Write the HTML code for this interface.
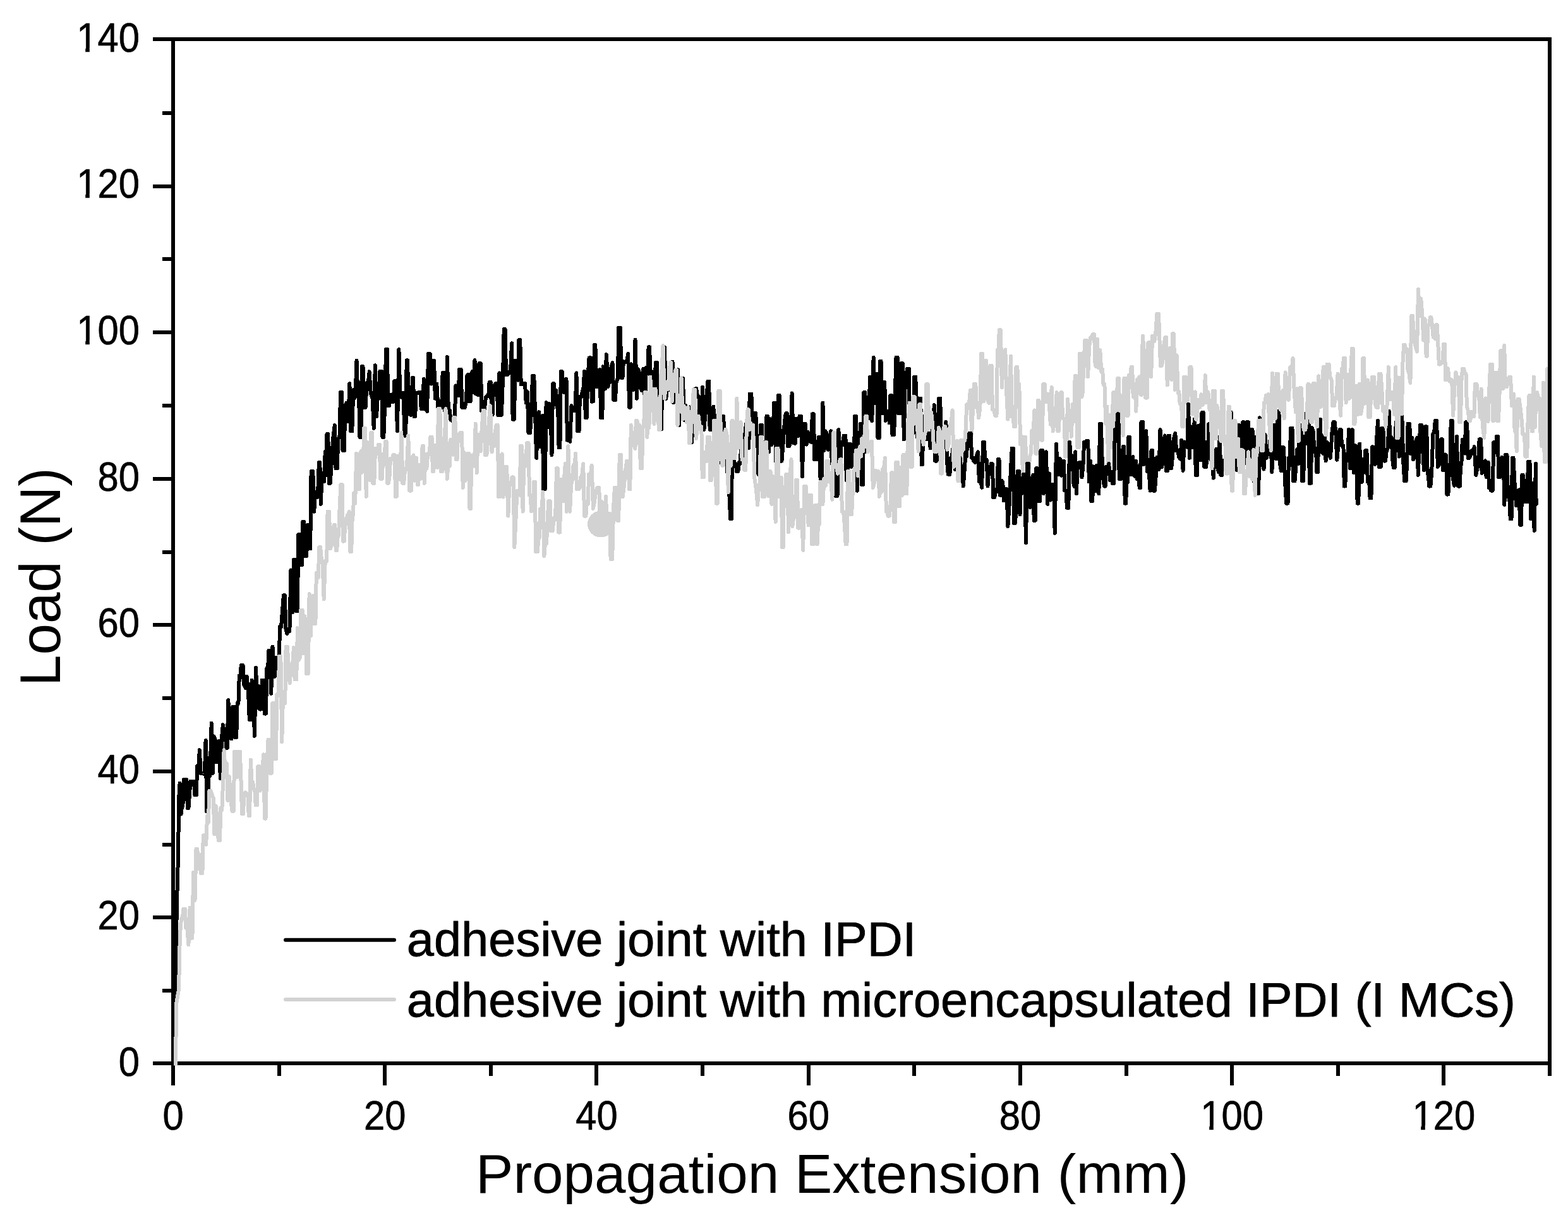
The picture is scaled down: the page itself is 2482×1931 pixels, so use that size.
<!DOCTYPE html>
<html lang="en"><head><meta charset="utf-8"><title>Load vs Propagation Extension</title>
<style>
html,body{margin:0;padding:0;background:#fff;}
svg{display:block;}
text{font-family:"Liberation Sans",Arial,sans-serif;fill:#000;}
</style></head>
<body>
<svg width="2482" height="1931" viewBox="0 0 2482 1931">
<rect x="0" y="0" width="2482" height="1931" fill="#fff"/>
<defs>
<clipPath id="plot"><rect x="271" y="59" width="2182" height="1627.5"/></clipPath>
<clipPath id="mid"><rect x="1521" y="59" width="361" height="1627"/></clipPath>
</defs>
<g fill="none" stroke="#000" stroke-width="6">
<rect x="274" y="62" width="2179" height="1621"/>
</g>
<g fill="none" stroke="#000" stroke-width="6">
<line x1="242" y1="1683.0" x2="274" y2="1683.0"/>
<line x1="257" y1="1568.0" x2="274" y2="1568.0"/>
<line x1="242" y1="1452.0" x2="274" y2="1452.0"/>
<line x1="257" y1="1337.0" x2="274" y2="1337.0"/>
<line x1="242" y1="1221.0" x2="274" y2="1221.0"/>
<line x1="257" y1="1105.0" x2="274" y2="1105.0"/>
<line x1="242" y1="989.0" x2="274" y2="989.0"/>
<line x1="257" y1="874.0" x2="274" y2="874.0"/>
<line x1="242" y1="758.0" x2="274" y2="758.0"/>
<line x1="257" y1="642.0" x2="274" y2="642.0"/>
<line x1="242" y1="526.0" x2="274" y2="526.0"/>
<line x1="257" y1="410.0" x2="274" y2="410.0"/>
<line x1="242" y1="295.0" x2="274" y2="295.0"/>
<line x1="257" y1="179.0" x2="274" y2="179.0"/>
<line x1="242" y1="62.0" x2="274" y2="62.0"/>
<line x1="274.0" y1="1683" x2="274.0" y2="1718"/>
<line x1="442.0" y1="1683" x2="442.0" y2="1703"/>
<line x1="609.0" y1="1683" x2="609.0" y2="1718"/>
<line x1="777.0" y1="1683" x2="777.0" y2="1703"/>
<line x1="944.0" y1="1683" x2="944.0" y2="1718"/>
<line x1="1112.0" y1="1683" x2="1112.0" y2="1703"/>
<line x1="1280.0" y1="1683" x2="1280.0" y2="1718"/>
<line x1="1447.0" y1="1683" x2="1447.0" y2="1703"/>
<line x1="1615.0" y1="1683" x2="1615.0" y2="1718"/>
<line x1="1783.0" y1="1683" x2="1783.0" y2="1703"/>
<line x1="1950.0" y1="1683" x2="1950.0" y2="1718"/>
<line x1="2118.0" y1="1683" x2="2118.0" y2="1703"/>
<line x1="2285.0" y1="1683" x2="2285.0" y2="1718"/>
<line x1="2453.0" y1="1683" x2="2453.0" y2="1703"/>
</g>
<g fill="none" stroke-linejoin="round" stroke-linecap="round" stroke-width="6" clip-path="url(#plot)" shape-rendering="crispEdges">
<polyline id="cb" stroke="#000" points="275.5,1684.0 276.0,1600.0 277.8,1566.0 278.7,1500.0 280.1,1425.0 281.6,1370.0 282.8,1300.0 283.3,1262.0 284.6,1239.8 286.5,1288.8 288.0,1276.7 289.4,1275.9 290.8,1234.3 292.9,1234.3 294.9,1233.7 297.0,1279.0 298.4,1279.0 299.9,1259.0 301.5,1236.6 302.9,1236.6 304.3,1236.7 307.0,1236.7 308.4,1258.2 310.8,1258.2 312.2,1212.2 314.3,1212.2 315.9,1187.2 317.6,1223.7 320.1,1223.7 321.5,1224.5 323.9,1224.5 325.6,1171.9 327.3,1284.2 329.2,1284.2 330.7,1200.0 332.5,1228.0 334.7,1144.8 336.9,1223.7 338.6,1165.3 340.8,1171.2 342.2,1206.0 344.5,1206.0 346.4,1173.1 348.9,1231.9 351.1,1166.5 352.9,1147.2 354.5,1158.7 356.6,1154.2 358.0,1183.7 359.7,1183.7 361.3,1108.3 362.9,1137.1 364.3,1139.5 366.3,1169.5 368.4,1118.9 370.8,1118.9 372.2,1167.2 374.2,1167.2 375.6,1113.0 377.4,1113.0 378.8,1069.5 380.4,1069.5 381.8,1053.0 384.5,1053.0 385.9,1083.3 388.7,1088.7 390.6,1070.7 393.0,1094.7 394.8,1138.9 397.0,1138.9 398.6,1076.6 400.8,1089.1 402.9,1164.8 405.1,1056.5 407.2,1119.8 409.2,1085.6 411.1,1122.5 413.4,1122.5 414.8,1076.6 417.3,1076.6 418.7,1129.5 421.0,1129.5 422.4,1057.4 424.0,1060.1 425.4,1029.5 427.2,1029.5 429.2,1097.7 431.5,1023.6 433.2,1068.8 434.6,1071.0 436.0,1041.2 438.1,1041.2 439.6,1059.3 441.3,1083.6 442.9,991.8 445.1,991.8 447.0,967.1 448.9,942.4 450.9,942.4 452.3,994.8 454.4,1002.8 455.8,998.9 458.4,998.9 460.4,902.4 463.0,969.4 465.0,885.9 467.3,885.9 468.7,967.1 470.9,967.1 472.3,846.1 474.2,846.1 475.6,894.3 477.9,894.3 479.3,826.0 481.1,826.0 482.5,880.2 485.2,880.2 487.2,830.8 489.1,868.4 491.2,868.4 492.6,746.0 495.3,746.0 497.2,809.6 499.2,779.0 501.0,784.3 502.9,786.6 504.9,731.9 506.3,731.9 507.9,797.8 509.6,749.1 511.2,755.7 513.3,762.0 514.7,715.3 516.1,722.4 517.5,687.2 519.3,687.2 520.7,764.8 522.8,764.8 524.9,729.0 527.5,691.5 529.8,673.0 531.5,741.3 533.8,741.3 535.2,695.1 537.6,689.7 539.0,621.2 541.1,621.2 542.5,713.1 544.9,713.1 546.3,643.1 548.2,638.1 549.6,667.2 551.6,659.2 553.4,607.1 555.1,682.4 557.3,682.4 559.3,617.4 561.2,630.3 562.5,627.5 564.5,570.8 566.4,627.3 568.1,627.3 569.5,691.9 571.4,691.9 572.8,580.3 574.5,580.3 576.4,645.2 578.7,644.8 580.5,606.3 582.9,605.4 584.7,588.3 586.6,620.8 588.0,626.0 589.6,630.2 591.7,677.7 593.8,578.4 596.0,659.1 597.9,627.9 600.0,630.7 601.4,587.8 604.1,587.8 605.5,691.9 607.3,691.9 609.2,640.5 611.0,553.0 612.9,553.0 614.3,642.4 616.2,642.4 617.6,624.5 619.9,624.5 621.3,636.3 622.9,635.6 624.3,603.3 626.9,603.3 628.9,682.4 631.4,553.0 633.3,621.6 634.8,628.8 636.2,621.7 638.8,621.7 640.2,689.5 642.3,689.5 643.7,570.4 645.2,570.4 646.6,654.7 648.1,654.7 649.5,656.6 651.4,656.6 652.8,598.2 654.1,598.2 655.5,659.4 657.2,659.4 658.6,621.7 661.3,621.7 662.7,621.2 665.3,621.2 666.7,647.1 669.1,647.1 670.8,600.0 672.4,647.1 674.1,647.1 676.1,650.9 678.0,560.0 680.6,560.0 682.5,607.6 684.4,570.8 687.0,570.8 688.9,630.7 691.3,607.6 693.4,645.2 696.1,645.2 697.5,644.8 699.2,644.8 700.6,590.2 703.2,590.2 704.6,656.5 706.2,656.5 708.0,565.2 709.8,649.5 711.9,649.5 713.3,664.1 714.8,664.1 716.2,666.9 717.7,666.9 719.4,675.4 721.4,610.4 723.1,626.4 725.7,626.4 727.1,585.0 729.8,585.0 731.2,644.8 733.9,644.8 735.9,645.2 738.0,633.5 739.5,594.5 741.2,592.9 742.6,635.4 744.7,635.4 746.1,591.6 748.0,587.8 749.5,620.7 751.5,570.2 753.3,623.6 755.4,623.6 756.9,625.2 758.5,575.3 760.9,575.3 762.3,650.7 765.1,650.7 766.9,647.1 768.9,629.3 770.5,627.1 773.2,627.1 774.6,605.0 776.8,605.0 778.2,656.6 779.6,656.6 781.0,613.9 782.4,613.9 783.8,607.3 786.4,607.3 788.4,657.3 790.5,590.4 792.1,656.6 793.9,656.6 795.8,605.3 797.7,521.2 799.6,521.2 801.0,593.2 803.7,593.2 805.7,590.6 808.1,585.7 810.1,543.3 811.6,663.6 814.0,663.6 815.6,570.7 817.2,598.4 819.9,601.7 821.3,538.1 823.3,538.1 824.7,608.3 827.3,608.3 828.7,607.1 831.0,607.1 832.7,637.3 834.8,620.1 836.5,684.8 839.2,684.8 841.1,648.8 843.0,595.1 845.3,595.1 847.0,652.5 849.2,724.8 851.1,656.3 853.0,652.1 854.9,707.5 856.7,673.0 858.8,657.7 860.2,774.3 862.7,774.3 864.6,637.0 867.0,676.1 869.1,638.7 871.2,647.8 873.5,720.1 875.1,607.3 876.8,607.3 878.2,621.9 880.2,618.0 881.6,645.0 883.2,645.0 884.6,708.3 886.4,708.3 887.8,588.0 889.6,588.0 891.0,620.5 893.5,620.5 894.9,600.3 896.5,600.3 897.9,696.6 900.3,696.6 902.3,698.9 904.5,642.2 906.6,650.1 908.4,649.7 910.6,649.7 912.4,590.4 914.2,682.4 916.5,682.4 917.9,628.1 920.4,628.1 921.8,619.8 923.4,614.3 925.1,588.0 926.8,661.3 928.6,661.3 930.6,594.8 932.6,566.4 935.2,566.4 936.9,635.6 939.1,635.4 940.9,546.1 942.4,546.1 943.8,612.1 945.3,612.1 947.0,585.9 949.4,585.2 951.3,661.3 953.3,661.3 954.7,580.3 956.1,583.2 957.7,615.6 959.9,561.2 962.6,611.8 964.6,602.3 966.0,604.1 967.5,581.5 969.5,574.2 971.4,633.0 974.0,633.0 975.4,605.7 977.9,599.0 979.3,518.8 982.0,518.8 983.4,597.7 985.5,597.7 986.9,572.0 988.3,573.6 989.7,573.6 992.3,570.9 994.2,560.0 996.1,644.8 997.8,644.8 999.2,576.4 1001.0,580.6 1002.4,617.1 1003.7,610.1 1005.5,537.7 1007.9,630.7 1009.8,584.3 1011.7,588.6 1013.6,613.6 1016.0,618.0 1018.5,583.6 1021.0,644.8 1022.9,581.8 1025.2,587.5 1026.6,549.4 1028.3,549.4 1029.8,642.4 1031.3,587.8 1033.4,593.8 1034.8,627.2 1036.3,634.1 1037.7,574.2 1040.0,574.2 1041.4,630.7 1042.9,630.7 1044.8,618.9 1047.0,679.2 1048.4,598.5 1049.9,584.0 1051.9,549.7 1054.3,631.1 1056.1,611.6 1057.9,606.3 1059.3,616.8 1061.7,614.1 1063.1,573.1 1064.5,572.6 1066.1,637.1 1067.7,608.3 1070.3,608.0 1071.7,588.3 1073.2,585.3 1074.9,673.1 1076.5,641.6 1078.9,651.2 1080.9,598.6 1083.2,664.6 1084.8,641.7 1087.5,646.4 1089.4,667.1 1091.8,644.4 1093.5,700.0 1094.9,700.1 1096.5,680.2 1098.4,652.8 1100.2,615.5 1102.1,614.7 1104.3,628.3 1106.5,628.3 1107.9,666.4 1110.3,670.6 1112.1,613.0 1114.4,680.1 1116.4,657.3 1118.6,625.8 1120.5,603.6 1122.2,603.6 1123.6,680.1 1126.1,680.1 1127.6,671.0 1129.4,643.6 1131.0,691.9 1132.9,691.9 1134.3,661.4 1136.2,656.2 1137.9,697.2 1139.8,689.6 1141.6,732.4 1143.1,658.9 1145.0,658.9 1146.8,687.3 1149.1,703.7 1150.9,746.5 1152.9,737.2 1154.5,785.8 1156.2,821.3 1157.8,821.3 1159.4,677.7 1161.2,727.1 1162.8,734.2 1164.7,734.2 1166.1,746.0 1168.4,746.0 1169.8,731.7 1171.2,734.0 1173.2,710.5 1175.2,719.1 1177.2,720.7 1178.8,692.0 1180.9,670.9 1182.8,705.5 1185.3,709.0 1186.7,623.6 1189.4,623.6 1190.9,683.0 1192.6,663.8 1194.1,654.2 1196.3,654.2 1197.7,691.9 1199.1,691.9 1200.5,750.7 1202.6,750.7 1204.0,673.0 1205.9,673.0 1207.3,743.7 1208.7,743.7 1210.1,711.6 1212.1,713.3 1213.5,658.9 1215.3,658.9 1216.8,715.4 1218.3,662.7 1219.8,664.7 1221.2,704.5 1223.6,698.7 1225.0,637.7 1227.3,637.7 1228.7,746.0 1230.6,746.0 1232.0,626.0 1233.8,626.0 1235.2,729.5 1237.5,729.5 1239.4,704.4 1241.9,667.5 1243.9,654.2 1245.7,654.2 1247.1,706.0 1249.5,706.0 1251.4,691.9 1253.6,622.4 1255.8,701.3 1257.7,694.4 1259.0,702.0 1260.6,662.6 1262.3,689.6 1264.1,689.7 1265.5,658.9 1268.0,658.9 1270.0,754.2 1271.9,670.7 1274.6,670.7 1276.6,703.6 1278.7,683.8 1280.3,689.8 1281.7,698.7 1284.4,700.0 1285.8,655.4 1287.9,655.4 1289.3,727.2 1290.8,727.2 1292.2,725.1 1294.3,727.2 1295.7,691.9 1297.2,691.9 1298.6,760.1 1300.6,760.1 1302.4,637.7 1304.4,713.1 1306.0,682.1 1307.8,684.3 1309.2,709.1 1310.7,711.6 1312.1,697.5 1313.5,692.5 1315.2,682.4 1316.8,734.2 1319.5,734.2 1321.1,750.2 1322.8,784.8 1325.5,784.8 1327.4,680.1 1329.8,744.7 1331.6,700.5 1334.3,704.1 1335.7,689.5 1338.4,689.5 1339.8,760.1 1341.8,760.1 1343.2,702.5 1345.9,702.5 1347.6,738.9 1349.3,724.5 1351.8,723.3 1353.2,658.9 1355.0,658.9 1356.9,776.6 1358.7,693.0 1360.5,702.1 1362.1,670.7 1363.8,767.2 1366.0,767.2 1367.4,621.2 1369.3,621.2 1370.9,715.4 1373.0,628.6 1375.2,662.1 1377.1,596.5 1378.5,596.5 1380.3,666.0 1382.6,565.9 1384.5,638.5 1386.2,636.5 1387.8,591.8 1389.5,693.0 1391.7,693.0 1393.1,571.8 1394.5,571.8 1396.5,654.2 1398.5,604.8 1400.2,604.8 1401.9,666.0 1403.6,650.4 1406.1,652.4 1407.8,669.5 1409.4,626.0 1411.1,626.0 1412.5,688.3 1415.2,688.3 1416.9,620.1 1418.5,565.9 1420.6,565.9 1422.0,654.2 1424.7,654.2 1426.1,575.3 1428.9,575.3 1430.8,695.4 1432.8,602.1 1434.6,593.3 1436.0,583.6 1438.7,583.6 1440.1,682.4 1441.9,682.4 1443.3,682.0 1445.8,685.5 1447.2,596.5 1449.2,596.5 1450.7,631.9 1452.8,703.1 1454.8,630.7 1457.3,630.7 1458.7,735.4 1460.1,735.4 1461.5,662.8 1462.8,668.5 1464.7,655.4 1466.9,695.4 1468.6,661.3 1470.6,669.9 1472.6,709.5 1474.6,688.6 1477.1,681.2 1478.7,641.3 1480.2,729.5 1482.7,729.5 1484.3,720.2 1485.9,630.7 1488.3,630.7 1489.7,718.0 1491.1,706.5 1492.5,700.8 1494.6,708.3 1496.0,678.5 1497.4,667.9 1499.1,730.6 1500.8,750.7 1503.4,750.7 1504.8,724.8 1506.7,723.7 1508.5,709.1 1510.3,738.0 1512.0,743.3 1513.8,711.1 1516.2,698.9 1518.2,721.7 1520.0,725.5 1521.4,750.1 1523.1,741.8 1524.8,769.5 1526.8,742.6 1528.5,716.6 1529.9,722.4 1531.3,701.2 1532.9,702.9 1534.3,686.0 1536.7,686.0 1538.1,724.8 1539.8,724.8 1541.2,729.9 1543.5,731.7 1545.5,722.2 1547.8,715.4 1550.0,762.5 1552.0,756.5 1554.1,771.9 1556.1,700.1 1557.9,700.1 1559.3,729.7 1561.7,727.6 1563.5,769.2 1565.3,739.9 1567.4,745.5 1568.8,734.2 1570.9,734.2 1572.3,787.2 1574.3,787.2 1575.7,775.4 1578.4,777.8 1579.8,727.2 1581.5,727.2 1582.9,783.7 1584.3,783.7 1585.7,760.7 1587.3,763.6 1588.8,792.5 1590.4,788.1 1591.9,774.3 1593.4,774.3 1595.4,833.1 1597.6,799.8 1599.9,744.0 1601.8,709.5 1603.7,709.5 1605.1,828.4 1606.7,828.4 1608.7,807.9 1610.7,746.0 1612.9,746.0 1614.5,814.3 1616.0,769.5 1618.5,761.6 1619.9,750.7 1621.9,750.7 1624.0,859.0 1626.0,734.2 1628.0,734.2 1629.4,802.5 1632.0,802.5 1633.4,757.9 1635.3,752.0 1636.7,823.7 1638.7,823.7 1640.1,741.3 1642.1,741.3 1643.5,793.1 1646.1,793.1 1647.5,713.1 1650.0,713.1 1651.9,781.3 1653.9,762.1 1655.8,715.4 1658.3,797.8 1660.7,749.5 1662.5,791.6 1663.9,789.0 1665.3,767.2 1667.9,767.2 1669.7,843.7 1672.0,702.5 1674.0,750.7 1676.4,750.7 1678.0,726.2 1680.3,752.9 1682.2,729.5 1683.9,729.5 1685.3,776.6 1687.5,776.6 1688.9,803.7 1691.3,803.7 1693.1,700.1 1695.0,724.8 1697.7,721.7 1699.1,763.6 1700.4,769.8 1702.1,715.4 1704.0,781.3 1705.7,732.7 1707.1,733.5 1708.5,731.9 1710.8,731.9 1712.4,755.4 1714.3,739.5 1716.1,700.1 1718.4,700.1 1719.8,697.7 1722.2,697.7 1723.9,762.5 1725.8,729.8 1727.4,793.1 1729.3,793.1 1730.7,738.3 1733.0,744.5 1734.5,776.8 1736.1,736.6 1737.7,736.6 1739.4,781.3 1741.0,670.7 1742.8,670.7 1744.4,720.7 1746.4,758.9 1748.0,769.5 1749.6,769.5 1751.0,738.9 1753.7,738.9 1755.2,733.8 1757.0,760.2 1759.0,746.5 1760.8,764.8 1763.1,764.8 1764.9,680.1 1767.2,698.0 1769.0,655.4 1770.3,655.4 1771.7,757.8 1774.2,757.8 1776.0,722.2 1777.9,707.2 1779.3,707.2 1780.7,796.6 1782.1,796.6 1783.5,765.3 1785.0,763.4 1786.4,691.9 1787.8,691.9 1789.2,750.7 1791.5,750.7 1793.3,723.1 1795.0,750.7 1796.5,753.9 1798.2,729.5 1799.9,757.8 1802.3,757.8 1803.7,771.9 1805.0,771.9 1806.4,668.3 1809.2,668.3 1810.6,735.2 1812.6,733.2 1814.3,682.4 1816.1,746.0 1818.7,746.0 1820.6,776.6 1822.5,713.1 1824.3,713.1 1825.7,776.6 1827.9,776.6 1829.5,756.1 1831.5,723.7 1833.3,738.9 1834.6,742.7 1836.5,680.1 1839.0,738.9 1841.4,703.4 1843.8,689.5 1845.8,744.8 1848.5,744.8 1849.9,689.5 1851.3,689.5 1852.7,741.3 1854.1,741.3 1855.9,724.7 1858.1,694.0 1860.3,686.0 1862.1,713.1 1864.6,713.1 1866.0,723.6 1868.5,726.4 1870.2,696.6 1872.6,744.8 1874.6,699.5 1876.3,700.6 1877.7,706.3 1879.3,708.0 1881.1,640.1 1883.0,724.8 1884.6,674.9 1886.9,682.6 1888.6,708.3 1890.8,663.6 1892.9,751.9 1895.0,751.9 1896.4,673.9 1898.4,673.4 1900.5,728.5 1902.5,653.0 1904.8,653.0 1906.2,738.9 1909.0,738.9 1910.4,727.6 1911.8,724.3 1913.2,671.4 1915.7,673.6 1917.1,728.0 1918.7,723.5 1920.7,756.6 1922.7,719.7 1925.4,710.8 1926.8,738.8 1929.0,747.3 1930.7,691.0 1932.4,751.9 1934.0,751.9 1936.0,728.8 1938.0,736.7 1939.5,730.1 1940.9,691.6 1943.0,703.2 1945.0,735.1 1946.9,653.0 1948.7,653.0 1950.5,714.7 1952.3,690.4 1953.7,694.4 1955.1,736.4 1957.6,743.7 1959.0,673.0 1961.1,673.0 1963.1,747.2 1965.5,731.7 1967.3,668.3 1969.1,668.3 1970.5,733.1 1972.0,733.1 1973.4,668.3 1976.1,668.3 1978.0,722.0 1979.9,680.1 1982.5,680.1 1984.3,761.3 1986.1,692.0 1988.4,703.5 1989.8,781.3 1992.2,781.3 1994.0,661.3 1995.7,704.0 1997.1,713.1 1998.5,735.5 2000.5,742.6 2002.6,688.3 2004.8,724.8 2006.5,717.9 2008.7,713.5 2010.1,697.5 2011.5,699.8 2013.3,747.2 2015.2,705.9 2016.7,673.0 2018.3,673.0 2020.2,726.5 2022.1,650.7 2024.4,650.7 2026.1,733.6 2027.9,745.5 2029.4,708.3 2032.0,708.3 2034.0,761.3 2036.1,796.6 2038.5,796.6 2039.9,724.7 2041.6,734.0 2043.0,677.7 2045.5,677.7 2046.9,761.3 2049.5,761.3 2051.1,741.2 2053.2,711.2 2055.4,733.9 2057.1,673.0 2059.8,673.0 2061.2,761.3 2063.2,761.3 2064.6,691.0 2067.2,702.3 2068.6,648.3 2071.4,648.3 2072.8,764.8 2075.0,764.8 2076.4,676.6 2078.9,683.6 2080.3,715.5 2083.0,710.2 2084.4,747.2 2086.1,747.2 2087.5,663.6 2089.9,663.6 2091.3,714.8 2094.0,717.6 2095.4,690.7 2096.8,690.7 2098.6,729.5 2100.4,699.6 2102.3,703.7 2103.9,719.9 2106.0,724.8 2108.5,683.7 2110.5,668.3 2112.8,668.3 2114.3,684.6 2116.3,727.9 2118.8,700.6 2120.6,680.1 2122.6,680.1 2124.0,705.3 2126.4,705.4 2127.8,769.5 2129.3,769.5 2130.7,726.8 2133.1,725.0 2135.1,680.1 2137.2,741.3 2138.7,741.3 2140.6,680.1 2142.9,748.2 2144.6,705.3 2147.2,706.7 2148.6,796.6 2150.3,796.6 2152.2,702.5 2154.0,758.1 2155.6,763.1 2157.6,726.8 2159.8,747.6 2161.4,713.1 2163.4,713.1 2164.8,762.5 2167.2,762.5 2168.6,788.4 2170.4,788.4 2172.1,707.2 2174.4,732.3 2176.9,735.0 2178.9,698.7 2181.1,666.0 2183.0,738.9 2185.6,738.9 2187.0,677.7 2189.4,677.7 2190.8,729.5 2193.0,729.5 2194.4,715.5 2197.0,707.7 2198.7,650.7 2200.7,706.7 2202.6,692.0 2204.3,728.2 2205.8,740.1 2207.7,740.1 2209.7,668.3 2211.7,686.7 2213.4,691.3 2214.8,722.6 2217.3,716.3 2219.1,650.7 2221.4,733.5 2223.2,761.3 2225.6,761.3 2227.1,733.8 2228.6,670.7 2231.2,670.7 2233.2,718.2 2235.3,693.0 2237.2,727.2 2239.2,722.4 2240.8,699.3 2243.2,692.9 2244.8,751.9 2246.5,708.0 2248.1,673.0 2249.9,673.0 2251.7,702.8 2254.0,744.2 2255.9,675.4 2258.2,675.4 2259.6,746.6 2260.9,753.9 2262.3,769.5 2264.4,769.5 2266.2,747.8 2268.4,686.9 2270.2,683.0 2271.8,666.0 2274.2,666.0 2275.8,738.9 2277.7,735.9 2279.6,728.7 2281.3,695.4 2282.9,695.4 2284.3,744.3 2286.3,744.2 2287.7,719.4 2289.1,720.6 2290.5,782.5 2292.4,782.5 2293.8,747.9 2295.3,745.3 2296.7,666.0 2298.8,666.0 2300.2,759.6 2302.0,768.8 2303.7,753.1 2305.9,690.7 2307.9,769.5 2310.7,769.5 2312.1,738.3 2313.4,733.0 2314.8,696.2 2316.8,701.5 2318.5,717.6 2320.2,668.3 2322.2,668.3 2323.6,724.8 2325.6,724.8 2327.3,721.8 2329.0,713.2 2331.7,717.5 2333.7,707.2 2336.3,751.9 2338.2,741.9 2340.2,735.3 2341.6,695.4 2344.2,695.4 2345.6,748.9 2347.9,744.2 2349.3,731.5 2351.0,729.4 2352.6,755.1 2354.1,731.9 2355.6,731.9 2357.0,771.9 2358.8,771.9 2360.2,776.6 2362.6,776.6 2364.4,700.1 2366.1,713.1 2367.5,716.3 2368.9,690.7 2370.8,690.7 2372.2,755.4 2374.2,755.4 2375.7,754.4 2377.3,724.0 2379.8,727.8 2381.4,799.0 2383.1,720.1 2385.5,720.1 2386.9,785.8 2389.3,789.3 2390.7,821.4 2392.5,821.4 2393.9,724.8 2395.5,724.8 2397.5,763.8 2400.1,800.5 2402.1,776.7 2404.7,775.4 2406.1,830.8 2408.0,830.8 2409.4,751.9 2410.8,751.9 2412.7,768.0 2414.7,794.3 2417.5,794.3 2418.9,730.7 2421.5,730.7 2422.9,821.4 2425.5,821.4 2426.9,764.9 2427.0,764.9 2428.6,840.0 2431.0,734.0 2431.6,798.0"/>
<circle cx="951" cy="829.5" r="21" fill="#d2d2d2" stroke="none"/>
<polyline id="cg" stroke="#d2d2d2" points="277.8,1686.0 278.7,1630.0 279.4,1587.0 283.0,1566.0 283.7,1535.0 284.4,1500.0 285.8,1465.0 287.3,1454.0 288.9,1454.0 290.3,1438.7 292.9,1438.7 294.3,1468.8 296.5,1470.0 298.4,1495.4 300.6,1436.6 302.4,1484.6 304.4,1484.6 306.1,1380.6 308.5,1425.0 310.5,1343.8 312.3,1343.8 314.3,1375.2 316.4,1352.7 318.0,1382.1 320.4,1382.1 321.8,1322.4 324.4,1322.4 326.2,1336.7 328.1,1291.7 329.9,1301.3 331.3,1252.0 334.0,1252.0 335.4,1257.8 337.8,1263.1 339.4,1320.5 341.5,1275.2 343.8,1298.9 345.7,1330.1 348.0,1330.1 349.4,1279.0 351.3,1282.0 352.9,1242.7 354.6,1187.2 356.1,1212.0 358.8,1208.0 360.5,1266.9 362.8,1229.1 365.4,1264.8 367.4,1283.7 369.8,1283.7 371.2,1189.5 372.5,1189.5 373.9,1229.6 376.3,1229.6 377.7,1189.5 379.8,1189.5 381.4,1231.6 383.1,1288.4 384.8,1288.4 386.5,1258.7 388.4,1254.3 390.0,1256.1 392.3,1257.1 393.7,1290.8 395.1,1290.8 396.8,1202.5 398.5,1236.3 400.2,1238.1 401.6,1249.0 403.3,1250.6 404.7,1274.3 406.9,1274.3 408.3,1213.1 410.2,1213.1 411.6,1251.6 413.3,1247.4 415.0,1224.4 417.1,1194.3 419.0,1295.5 420.5,1295.5 422.5,1211.9 424.5,1170.7 426.0,1170.7 427.4,1223.7 430.0,1223.7 431.4,1113.0 434.0,1113.0 435.4,1201.3 436.9,1201.3 438.3,1099.2 440.6,1101.0 442.0,1038.9 444.4,1038.9 446.2,1174.2 448.2,1095.2 449.8,1113.0 451.2,1113.0 452.6,1023.6 455.1,1023.6 456.8,1067.8 458.9,1081.3 460.7,1052.2 463.3,1048.9 464.9,1025.2 466.6,1075.4 469.2,1075.4 471.0,994.2 472.8,1044.7 474.6,1041.6 476.0,965.9 478.7,965.9 480.5,1034.2 482.3,975.4 483.7,985.8 485.1,1066.0 487.8,1066.0 489.6,940.0 491.8,1006.2 493.6,944.6 495.6,942.8 497.0,987.1 499.4,987.1 500.8,907.1 502.1,907.1 503.8,914.2 505.4,866.1 507.2,866.1 508.8,884.9 510.6,891.9 512.7,948.3 514.7,888.2 517.2,888.2 518.6,809.6 520.9,809.6 522.9,868.4 525.1,861.5 527.0,846.3 528.7,830.8 530.3,830.8 531.7,870.8 533.2,870.8 534.6,850.3 536.1,846.9 537.8,799.3 539.4,767.2 541.7,767.2 543.1,856.6 544.8,856.6 546.2,832.8 548.4,825.8 549.8,815.2 551.2,815.0 552.8,809.6 554.4,873.1 556.2,873.1 557.6,821.9 558.9,814.8 560.4,780.0 562.1,796.9 564.3,717.8 566.3,774.3 568.8,774.3 570.2,717.8 571.5,714.3 572.9,748.0 574.8,740.8 576.2,677.7 577.9,677.7 579.7,786.0 582.0,700.3 584.0,754.0 585.7,760.0 587.4,684.8 589.0,684.8 590.4,764.8 592.3,764.8 594.0,710.0 595.6,718.8 597.6,714.0 599.0,703.6 600.8,703.6 602.2,757.8 604.9,757.8 606.3,718.7 608.7,720.3 610.1,698.9 611.7,698.9 613.1,764.8 614.8,764.8 616.4,756.2 618.1,725.7 620.7,727.5 622.1,720.1 624.7,720.1 626.1,786.0 627.7,786.0 629.6,722.3 631.5,752.9 633.3,758.8 635.4,684.8 637.4,764.8 639.2,764.8 641.2,741.9 643.8,743.5 646.3,689.5 648.3,776.6 650.7,776.6 652.1,724.3 654.5,720.5 656.3,760.7 658.8,724.8 660.7,767.2 662.1,767.2 664.1,735.5 666.7,757.7 668.6,706.0 670.2,706.0 671.8,764.8 673.6,719.1 675.4,741.8 677.2,718.2 679.9,718.8 681.3,691.9 683.5,691.9 684.9,746.0 686.4,746.0 688.1,705.2 689.7,732.0 692.5,739.7 693.9,647.1 696.4,647.1 697.8,746.0 700.5,746.0 701.9,693.4 703.6,704.4 705.5,647.1 707.7,757.8 709.5,735.5 711.7,738.0 713.4,695.7 715.1,718.5 716.9,719.7 718.3,661.3 720.4,661.3 721.8,727.2 723.5,727.2 724.9,690.7 727.1,686.5 728.5,684.8 731.1,684.8 732.7,771.9 734.6,716.3 736.5,760.8 738.6,738.5 740.5,717.8 742.1,717.8 743.5,804.9 744.9,804.9 746.3,726.4 747.6,720.8 749.0,737.6 751.0,736.2 752.7,670.7 754.7,748.4 756.6,687.9 758.3,706.3 760.7,714.4 762.7,678.2 764.7,649.5 766.5,649.5 767.9,720.1 770.4,720.1 772.2,696.0 774.1,663.6 776.1,642.4 778.5,715.4 780.5,702.7 782.1,706.3 783.9,683.7 785.6,673.0 787.8,673.0 789.2,786.0 791.0,786.0 792.4,722.4 794.6,718.6 796.4,786.6 798.6,757.0 800.4,738.9 802.2,738.9 804.3,816.6 806.3,769.5 809.0,764.9 810.4,755.4 812.6,755.4 814.3,866.1 816.3,825.8 818.5,777.0 820.4,781.7 822.7,783.7 824.1,706.0 825.8,706.0 827.6,809.6 829.5,721.5 831.1,738.2 832.6,730.5 834.0,701.3 836.6,701.3 838.0,783.7 839.7,783.7 841.1,809.5 843.8,802.7 845.2,762.5 846.7,762.5 848.1,873.1 850.9,873.1 852.3,851.1 853.7,851.1 855.1,805.9 857.5,806.7 859.3,779.0 861.4,880.2 863.0,859.2 865.1,860.4 866.7,821.5 868.4,793.1 870.7,793.1 872.1,840.2 874.7,840.2 876.7,820.2 879.1,822.8 881.0,741.3 882.8,741.3 884.2,842.5 886.2,842.5 887.7,758.7 889.3,789.7 891.1,793.2 892.9,759.8 894.8,734.2 896.9,809.6 899.4,706.0 902.1,809.6 904.1,767.2 906.2,759.2 907.6,736.1 909.1,741.8 911.1,717.8 913.0,774.3 914.4,774.3 915.8,774.3 917.5,772.8 918.9,755.6 921.2,752.8 923.2,734.2 925.1,816.6 927.4,816.6 928.8,797.2 930.7,797.9 932.1,750.6 934.5,755.8 936.6,736.6 938.9,804.9 940.9,794.3 942.5,782.7 944.2,775.2 945.6,771.9 948.3,771.9 950.2,847.2 952.7,794.2 954.7,831.5 957.0,837.2 959.0,786.0 961.1,833.1 963.6,833.1 965.1,812.6 966.6,884.9 969.2,884.9 971.1,803.6 972.9,771.9 975.7,771.9 977.1,823.7 979.3,823.7 980.7,720.1 983.0,720.1 984.4,786.0 985.8,786.0 987.7,770.6 990.2,743.6 992.1,729.5 994.6,729.5 996.0,774.3 997.3,774.3 998.8,673.0 1000.3,692.1 1002.1,698.5 1003.5,705.0 1005.4,709.9 1006.8,666.0 1008.5,666.0 1010.2,701.3 1012.1,673.1 1013.9,741.3 1016.1,741.3 1017.5,675.4 1019.2,675.8 1020.6,621.2 1022.6,621.2 1024.2,691.9 1025.8,673.3 1027.4,677.2 1029.3,596.5 1031.5,650.1 1033.5,616.0 1035.4,670.7 1037.5,615.6 1039.3,637.8 1041.4,639.0 1042.8,680.1 1044.6,680.1 1046.0,596.1 1047.5,585.0 1049.5,547.1 1051.9,630.7 1053.7,610.5 1055.5,604.4 1056.9,616.2 1059.3,614.6 1060.7,574.2 1062.1,574.2 1063.7,635.4 1065.3,608.1 1067.9,609.2 1069.3,585.9 1070.8,585.9 1072.5,673.0 1074.1,642.1 1076.5,650.0 1078.5,597.7 1080.8,663.6 1082.4,642.4 1085.1,647.0 1087.0,667.8 1089.4,644.8 1091.1,701.3 1092.5,701.3 1094.1,677.4 1096.0,650.0 1097.8,616.5 1099.7,616.5 1101.7,694.2 1103.7,680.1 1105.7,658.6 1107.6,675.4 1110.3,675.4 1111.7,755.4 1113.7,755.4 1115.1,716.4 1116.9,717.9 1118.5,730.1 1120.0,691.9 1122.8,691.9 1124.2,760.1 1125.8,760.1 1127.2,749.4 1128.7,743.0 1130.1,666.0 1132.4,666.0 1133.8,796.6 1135.9,796.6 1137.3,618.9 1139.7,618.9 1141.3,714.0 1143.0,736.6 1144.8,736.6 1146.2,688.5 1148.6,679.7 1150.5,687.2 1152.8,779.0 1154.8,703.2 1156.8,737.0 1158.5,666.0 1159.8,666.0 1161.2,724.8 1163.0,724.8 1164.6,709.0 1166.4,630.7 1168.2,709.0 1170.2,673.2 1172.6,668.3 1174.6,727.2 1176.8,727.2 1178.2,743.7 1180.3,743.7 1182.0,670.4 1183.6,648.3 1185.0,648.3 1186.4,679.9 1188.3,669.6 1189.7,673.0 1192.1,673.0 1194.1,755.4 1196.6,771.9 1199.2,799.0 1201.2,767.4 1202.6,773.3 1204.0,691.9 1205.8,691.9 1207.2,786.0 1210.0,786.0 1211.4,700.1 1213.3,700.1 1214.7,777.8 1216.5,785.2 1217.9,746.0 1219.5,746.0 1221.5,797.8 1223.4,754.1 1225.9,760.7 1227.6,826.0 1229.3,709.5 1231.5,709.5 1232.9,786.0 1235.0,786.0 1236.6,755.9 1238.2,866.1 1239.6,866.1 1241.0,770.8 1243.0,785.3 1244.4,750.7 1246.1,750.7 1248.1,842.5 1250.5,753.1 1252.5,727.2 1254.3,833.1 1255.9,821.5 1258.7,815.2 1260.1,760.1 1261.9,760.1 1263.3,835.5 1265.6,835.5 1267.1,826.3 1268.9,806.7 1271.2,870.8 1273.2,769.5 1275.6,769.5 1277.5,800.3 1279.7,831.5 1281.4,783.7 1283.9,783.7 1285.3,861.4 1287.8,861.4 1289.2,800.2 1292.0,800.2 1293.6,861.4 1295.2,825.4 1296.6,831.1 1298.4,762.5 1300.2,797.8 1302.4,797.8 1304.4,758.0 1306.7,769.0 1308.5,729.5 1310.8,729.5 1312.2,762.5 1313.7,762.5 1315.2,759.2 1317.4,790.7 1319.4,684.8 1320.9,684.8 1322.3,738.9 1324.2,738.9 1326.1,749.8 1328.1,736.1 1329.6,727.2 1331.4,727.2 1332.8,809.6 1335.1,809.6 1336.9,832.3 1338.7,861.4 1340.5,861.4 1341.9,746.0 1344.0,746.0 1345.4,814.3 1348.1,814.3 1349.8,778.1 1351.4,744.9 1353.3,743.9 1354.7,713.1 1356.4,713.1 1358.1,753.1 1359.9,711.8 1361.3,706.6 1362.8,722.7 1364.4,694.1 1366.1,714.2 1368.2,693.5 1370.3,658.9 1371.8,658.9 1373.7,715.4 1375.5,704.9 1377.1,700.6 1378.5,698.9 1379.9,698.9 1381.8,771.9 1384.3,763.3 1386.3,744.9 1387.8,745.9 1389.2,746.0 1390.5,746.0 1392.0,786.0 1393.5,777.0 1395.6,778.4 1397.0,742.4 1399.2,739.8 1401.0,724.8 1402.9,809.6 1404.3,809.6 1405.7,816.6 1407.8,816.6 1409.4,802.5 1411.0,748.4 1413.4,748.4 1414.8,826.0 1416.9,826.0 1418.3,731.9 1421.0,731.9 1422.4,801.3 1423.8,801.3 1425.6,739.6 1427.8,784.0 1429.5,720.1 1431.9,720.1 1433.3,781.3 1435.3,781.3 1437.3,671.6 1439.7,637.7 1441.5,738.9 1443.7,738.9 1445.1,628.3 1447.9,628.3 1449.3,670.0 1451.8,662.1 1453.6,714.2 1455.4,640.1 1457.2,640.1 1458.6,692.7 1460.1,692.3 1461.7,703.6 1463.3,689.4 1464.9,683.4 1466.3,608.3 1468.8,608.3 1470.3,680.4 1472.1,661.6 1474.2,653.0 1476.2,673.4 1478.1,710.7 1479.8,715.4 1482.3,715.4 1484.0,712.7 1485.8,676.8 1487.7,681.6 1489.1,749.5 1490.9,749.5 1492.7,687.7 1494.4,675.4 1496.3,675.4 1498.0,688.9 1499.6,711.7 1501.6,703.0 1503.0,678.2 1505.7,668.3 1507.6,649.5 1509.7,738.9 1511.5,725.9 1513.1,700.0 1515.1,697.7 1516.5,761.3 1517.9,761.3 1519.5,709.5 1521.0,696.6 1522.4,696.6 1523.8,741.3 1526.3,741.3 1528.3,686.5 1530.2,640.1 1531.5,640.1 1533.4,646.2 1535.9,617.7 1538.2,687.2 1540.2,643.0 1541.8,608.3 1544.4,608.3 1545.8,645.1 1547.2,638.0 1549.1,661.3 1551.4,645.9 1553.2,560.0 1555.3,560.0 1557.1,635.0 1559.0,570.6 1561.1,570.6 1562.9,632.5 1565.3,637.9 1567.3,578.9 1569.6,578.9 1571.0,648.3 1573.5,648.3 1574.9,657.7 1577.5,657.7 1578.9,554.2 1580.4,554.2 1581.8,522.4 1583.9,522.4 1585.9,613.0 1588.2,568.2 1589.8,560.9 1591.3,553.5 1593.2,620.3 1595.3,663.6 1597.5,650.0 1599.9,563.6 1601.9,659.6 1603.5,656.8 1604.9,675.4 1607.1,675.4 1608.5,581.2 1610.3,581.2 1611.7,608.3 1613.3,608.3 1615.1,703.1 1617.0,690.3 1619.0,750.7 1620.7,691.9 1622.8,691.9 1624.6,729.1 1626.5,741.3 1628.7,741.3 1630.1,722.8 1632.0,717.4 1633.4,681.9 1635.6,683.8 1637.5,649.5 1639.5,717.8 1641.6,717.8 1643.0,634.2 1644.6,634.2 1646.4,647.1 1648.3,696.6 1649.9,696.6 1651.3,608.3 1653.9,608.3 1655.3,635.9 1657.6,636.4 1659.2,623.6 1661.0,642.1 1662.8,671.6 1664.6,613.0 1666.7,682.4 1668.4,670.9 1670.8,669.8 1672.6,621.2 1674.4,682.4 1675.7,682.4 1677.5,648.5 1679.3,621.2 1680.7,621.2 1682.1,662.0 1684.8,663.5 1686.2,722.5 1688.4,722.5 1689.9,631.8 1691.4,647.1 1694.1,652.4 1695.8,690.7 1697.9,639.8 1699.9,667.1 1701.7,595.3 1704.1,595.3 1705.5,708.3 1707.6,708.3 1709.0,560.0 1710.7,560.0 1712.1,628.2 1713.4,625.5 1715.4,578.0 1717.3,538.9 1720.1,538.9 1722.0,596.5 1724.3,547.5 1726.2,534.1 1728.2,534.1 1729.6,529.4 1732.1,529.4 1733.5,575.3 1734.8,580.3 1736.8,536.5 1739.0,582.4 1741.3,554.2 1743.4,588.7 1745.1,584.3 1746.5,608.3 1748.4,608.3 1750.3,670.8 1752.3,643.7 1754.3,740.1 1756.2,656.6 1757.5,656.6 1759.0,708.1 1760.6,665.7 1762.2,621.2 1764.7,621.2 1766.2,675.9 1767.8,625.6 1769.4,598.9 1770.8,598.9 1772.6,658.4 1775.0,627.1 1777.6,689.5 1779.5,598.9 1782.2,598.9 1783.6,657.7 1785.6,657.7 1787.0,594.2 1789.2,594.2 1790.6,581.2 1792.1,581.2 1793.7,627.8 1795.2,607.9 1796.7,614.5 1798.3,650.7 1799.9,601.2 1801.8,601.2 1803.5,596.6 1805.3,624.4 1806.8,625.1 1808.8,531.8 1811.3,562.1 1813.3,629.5 1816.0,629.5 1817.4,542.4 1820.1,542.4 1822.1,596.5 1824.1,531.8 1825.6,531.8 1827.3,540.4 1829.4,525.3 1831.4,496.9 1834.0,496.9 1835.5,538.7 1837.0,578.9 1838.7,578.9 1840.4,571.5 1842.5,545.1 1844.3,534.1 1845.9,534.1 1847.7,609.5 1849.5,554.5 1851.8,550.8 1853.2,599.0 1854.6,601.1 1856.0,528.3 1858.0,528.3 1860.0,616.8 1862.6,562.4 1864.7,622.0 1866.3,619.9 1867.7,638.9 1870.1,638.9 1871.5,675.4 1872.9,675.4 1874.3,596.5 1876.9,596.5 1879.0,638.6 1881.4,621.7 1883.3,581.2 1885.5,581.2 1887.3,655.6 1889.1,622.5 1891.7,620.4 1893.1,663.6 1894.4,663.6 1895.8,633.0 1897.4,633.0 1899.2,644.9 1901.5,624.3 1903.5,641.0 1906.0,637.1 1907.8,594.2 1909.7,637.5 1911.2,619.3 1913.1,623.6 1914.5,648.3 1916.9,648.3 1918.5,741.3 1920.1,618.9 1922.8,618.9 1924.5,694.2 1926.4,642.1 1928.1,655.1 1930.6,658.5 1932.4,697.7 1934.2,618.9 1936.3,618.9 1937.7,698.3 1939.2,692.6 1940.6,749.5 1943.2,749.5 1944.6,643.6 1946.2,643.6 1947.9,683.5 1949.7,776.6 1951.3,776.6 1952.7,666.0 1955.5,666.0 1956.9,723.5 1958.3,718.1 1960.0,694.5 1961.8,747.2 1964.5,747.2 1965.9,712.0 1967.9,713.7 1969.3,781.3 1971.0,781.3 1972.4,753.6 1974.0,753.1 1976.0,715.4 1978.3,754.1 1980.2,728.7 1982.1,758.6 1984.3,711.9 1986.7,783.7 1988.8,713.7 1990.2,716.0 1992.0,666.0 1993.8,670.7 1995.7,665.5 1997.1,713.1 1999.3,713.1 2000.7,637.7 2002.5,637.7 2003.9,626.0 2005.7,626.0 2007.2,624.1 2009.2,668.3 2011.7,713.1 2013.9,590.6 2015.5,606.1 2016.9,601.6 2018.7,662.4 2020.6,591.8 2023.0,591.8 2024.4,639.8 2026.2,646.9 2028.1,649.7 2030.5,618.2 2032.6,662.4 2034.6,589.5 2036.4,629.1 2038.0,630.7 2039.9,633.0 2042.1,581.2 2044.2,590.9 2046.5,567.1 2048.7,618.8 2050.9,652.1 2053.1,615.3 2054.7,697.7 2056.0,697.7 2057.4,614.2 2059.9,614.2 2061.8,659.4 2063.7,680.1 2066.4,680.1 2068.5,664.3 2070.5,608.3 2071.8,608.3 2073.5,657.4 2075.2,668.3 2077.1,668.3 2078.5,607.1 2081.2,607.1 2082.9,660.2 2084.9,675.4 2087.1,595.3 2089.1,641.8 2090.9,643.9 2092.9,609.0 2094.8,581.2 2096.4,581.2 2097.8,688.3 2099.4,688.3 2100.8,576.5 2103.6,576.5 2105.0,595.0 2107.8,602.0 2109.2,642.4 2111.9,642.4 2113.3,632.5 2115.6,627.8 2117.6,591.8 2120.0,628.4 2122.2,657.7 2123.9,583.6 2125.5,583.6 2126.9,567.1 2129.0,567.1 2130.6,637.2 2132.9,593.1 2134.9,631.1 2136.7,630.0 2138.4,585.6 2140.1,551.8 2141.6,551.8 2143.0,670.7 2144.5,670.7 2146.5,610.6 2148.5,651.5 2149.9,656.1 2151.9,607.8 2154.0,655.4 2155.8,645.1 2157.4,567.1 2159.0,567.1 2160.4,638.7 2163.1,634.5 2164.7,601.4 2166.3,660.1 2168.7,660.1 2170.5,615.9 2172.2,596.5 2174.9,596.5 2176.8,639.0 2178.7,644.8 2181.4,644.8 2182.8,591.8 2185.5,591.8 2187.3,615.8 2189.0,650.8 2191.4,651.1 2193.4,675.4 2195.7,638.5 2197.9,581.2 2199.7,632.2 2201.2,632.3 2202.6,621.2 2205.0,621.2 2206.9,655.7 2209.3,581.2 2211.2,693.0 2213.5,693.0 2215.4,597.7 2217.3,655.4 2218.9,655.4 2220.5,573.0 2222.1,545.9 2223.9,545.9 2225.3,553.4 2227.2,552.5 2228.6,586.6 2230.4,591.2 2232.4,605.9 2234.3,500.0 2235.9,500.0 2237.9,526.9 2240.5,547.8 2243.0,556.5 2245.0,457.6 2247.0,500.1 2249.2,472.9 2251.4,498.7 2253.3,538.6 2255.5,504.9 2257.6,563.6 2258.9,563.6 2260.3,514.9 2262.4,514.7 2263.8,502.4 2265.4,502.4 2267.1,515.9 2268.7,533.4 2270.1,533.3 2271.7,536.5 2273.3,514.1 2274.7,514.1 2276.3,543.8 2277.8,576.5 2280.3,576.5 2281.7,573.8 2283.6,573.7 2285.0,544.7 2286.8,544.7 2288.2,601.2 2290.4,601.2 2292.0,583.3 2294.2,603.1 2296.2,604.6 2298.2,601.4 2300.1,657.7 2302.4,611.5 2304.5,589.5 2306.2,601.9 2308.9,597.3 2310.3,668.3 2311.9,668.3 2313.5,601.6 2315.0,583.6 2317.3,583.6 2318.7,591.8 2320.5,591.8 2321.9,643.0 2324.0,650.9 2325.4,666.0 2327.2,666.0 2329.0,651.7 2330.7,658.9 2333.4,658.9 2334.8,608.3 2337.5,608.3 2338.9,626.5 2341.2,627.7 2342.8,660.1 2344.6,615.7 2346.8,673.6 2349.3,693.0 2351.4,630.4 2353.9,631.9 2355.5,666.8 2357.5,611.8 2359.2,576.5 2361.9,576.5 2363.3,666.0 2364.6,666.0 2366.0,589.5 2368.4,589.5 2369.8,666.0 2372.0,666.0 2373.6,621.7 2375.2,555.3 2377.1,555.3 2379.0,615.3 2381.2,547.1 2382.8,611.8 2385.4,611.8 2386.8,598.8 2388.2,603.6 2389.6,596.5 2391.1,596.5 2392.9,641.8 2394.6,627.7 2396.2,623.5 2397.6,681.5 2398.9,671.6 2400.7,714.2 2402.5,631.9 2404.7,631.9 2406.6,645.5 2408.8,666.4 2410.4,687.2 2413.0,687.2 2414.4,722.5 2417.2,722.5 2418.9,654.5 2420.5,626.0 2423.2,626.0 2424.6,682.5 2426.2,682.5 2427.8,596.5 2429.6,676.4 2431.3,636.7 2433.2,621.3 2435.0,632.9 2436.9,630.1 2438.5,684.6 2440.2,706.0 2441.6,706.0 2443.2,606.0 2444.7,730.7 2447.4,730.7 2449.4,583.6 2453.0,590.7"/>
<g clip-path="url(#mid)"><use href="#cb"/></g>
</g>
<line x1="2453" y1="62" x2="2453" y2="1683" stroke="#000" stroke-width="6"/>
<g font-size="64.6" stroke="#000" stroke-width="0.7" stroke-linejoin="round">
<text transform="translate(221 1702.8) scale(0.925 1)" text-anchor="end">0</text>
<text transform="translate(221 1471.2) scale(0.925 1)" text-anchor="end">20</text>
<text transform="translate(221 1239.7) scale(0.925 1)" text-anchor="end">40</text>
<text transform="translate(221 1008.1) scale(0.925 1)" text-anchor="end">60</text>
<text transform="translate(221 776.5) scale(0.925 1)" text-anchor="end">80</text>
<text transform="translate(221 544.9) scale(0.925 1)" text-anchor="end">100</text>
<text transform="translate(221 313.4) scale(0.925 1)" text-anchor="end">120</text>
<text transform="translate(221 81.8) scale(0.925 1)" text-anchor="end">140</text>
<text transform="translate(274.0 1788.3) scale(0.925 1)" text-anchor="middle">0</text>
<text transform="translate(609.2 1788.3) scale(0.925 1)" text-anchor="middle">20</text>
<text transform="translate(944.5 1788.3) scale(0.925 1)" text-anchor="middle">40</text>
<text transform="translate(1279.7 1788.3) scale(0.925 1)" text-anchor="middle">60</text>
<text transform="translate(1614.9 1788.3) scale(0.925 1)" text-anchor="middle">80</text>
<text transform="translate(1950.2 1788.3) scale(0.925 1)" text-anchor="middle">100</text>
<text transform="translate(2285.4 1788.3) scale(0.925 1)" text-anchor="middle">120</text>
</g>
<g>
<rect x="123.0" y="538.5" width="12.2" height="8.0" fill="#fff"/>
<rect x="141.8" y="538.5" width="12.0" height="8.0" fill="#fff"/>
<rect x="123.0" y="306.5" width="12.2" height="8.0" fill="#fff"/>
<rect x="141.8" y="306.5" width="12.0" height="8.0" fill="#fff"/>
<rect x="123.0" y="75.5" width="12.2" height="8.0" fill="#fff"/>
<rect x="141.8" y="75.5" width="12.0" height="8.0" fill="#fff"/>
<rect x="1902.0" y="1781.5" width="12.2" height="8.0" fill="#fff"/>
<rect x="1920.8" y="1781.5" width="12.0" height="8.0" fill="#fff"/>
<rect x="2238.0" y="1781.5" width="11.2" height="8.0" fill="#fff"/>
<rect x="2255.8" y="1781.5" width="12.0" height="8.0" fill="#fff"/>
</g>
<g fill="none" stroke-width="6" stroke-linecap="round">
<line x1="452" y1="1487.7" x2="624" y2="1487.7" stroke="#000"/>
<line x1="452" y1="1581.9" x2="624" y2="1581.9" stroke="#d2d2d2"/>
</g>
<g font-size="77.6" stroke="#000" stroke-width="0.9" stroke-linejoin="round">
<text transform="translate(643.8 1513) scale(1 0.97)">adhesive joint with IPDI</text>
<text transform="translate(643.8 1609) scale(1 0.97)">adhesive joint with microencapsulated IPDI (I MCs)</text>
</g>
<text transform="translate(753 1888) scale(1.012 1)" font-size="88">Propagation Extension (mm)</text>
<text transform="translate(95.2 1086) rotate(-90) scale(0.988 1)" font-size="90">Load (N)</text>
</svg>
</body></html>
